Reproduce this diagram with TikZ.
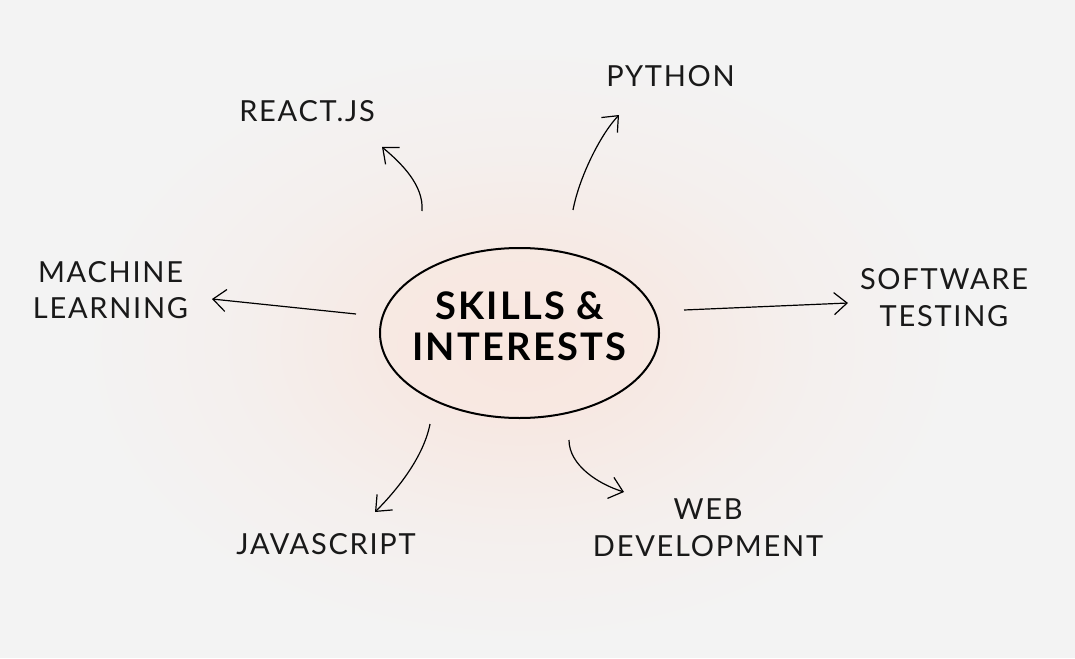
\documentclass[tikz,border=0pt]{standalone}
\usepackage{fontspec}
\setmainfont{Lato}
\newfontfamily\topicfont[LetterSpace=6]{Lato}
\usetikzlibrary{arrows.meta,shapes.geometric,positioning}

\definecolor{paper}{HTML}{F3F3F3}
\definecolor{blush}{HTML}{F8E4DC}
\definecolor{peach}{HTML}{F9E9E2}
\pgfdeclareradialshading{glow}{\pgfpoint{0bp}{0bp}}{color(0bp)=(blush); color(7bp)=(blush!70!paper); color(16bp)=(blush!25!paper); color(25bp)=(paper); color(50bp)=(paper)}

\begin{document}
\begin{tikzpicture}[x=1pt, y=-1pt, every node/.style={font=\topicfont\fontsize{29}{36.5}\selectfont}]
        \tikzstyle{topic} = [align=center, inner sep=0pt, text=black!90]
        \tikzstyle{hub} = [ellipse, draw=black, line width=2pt, fill=peach,
            fill opacity=.5, text opacity=1, minimum width=279pt, minimum height=170pt,
            inner sep=0pt, font=\topicfont\fontsize{38}{40.5}\selectfont\bfseries]
        \tikzstyle{arrow} = [-{Straight Barb[length=13pt,width=22pt]}, line width=1.2pt]

        % page and soft glow
        \fill[paper] (0,0) rectangle (1075,658);
        \shade[shading=glow] (520,345) ellipse [x radius=440, y radius=300];

        \node (skills) [hub] at (519.5,333) {\makebox[0pt]{\smash{\raisebox{-5pt}{\begin{tabular}{@{}c@{}}SKILLS \&\\INTERESTS\end{tabular}}}}};

        \node (python) [topic] at (670.5,76) {PYTHON};
        \node (react) [topic] at (307,111) {REACT.JS};
        \node (ml) [topic] at (110.5,290) {MACHINE\\LEARNING};
        \node (testing) [topic] at (944,297.5) {SOFTWARE\\TESTING};
        \node (js) [topic] at (326,544) {JAVASCRIPT};
        \node (web) [topic] at (708,527.5) {WEB\\DEVELOPMENT};

        % arrow ends, clear of the nodes
        \coordinate (reactFrom) at (422,211);   \coordinate (reactTo) at (382,147);
        \coordinate (pythonFrom) at (573,210);  \coordinate (pythonTo) at (619,115);
        \coordinate (mlFrom) at (356,314);      \coordinate (mlTo) at (212,299);
        \coordinate (testingFrom) at (684,310); \coordinate (testingTo) at (848,303);
        \coordinate (jsFrom) at (430,424);      \coordinate (jsTo) at (375,512);
        \coordinate (webFrom) at (569,440);     \coordinate (webTo) at (624,492);

        \draw [arrow] (reactFrom) .. controls (424,185) and (401,163) .. (reactTo);
        \draw [arrow] (pythonFrom) .. controls (579,178) and (600,135) .. (pythonTo);
        \draw [arrow] (mlFrom) -- (mlTo);
        \draw [arrow] (testingFrom) -- (testingTo);
        \draw [arrow] (jsFrom) .. controls (424,455) and (400,487) .. (jsTo);
        \draw [arrow] (webFrom) .. controls (569,465) and (598,484) .. (webTo);
    \end{tikzpicture}
\end{document}
